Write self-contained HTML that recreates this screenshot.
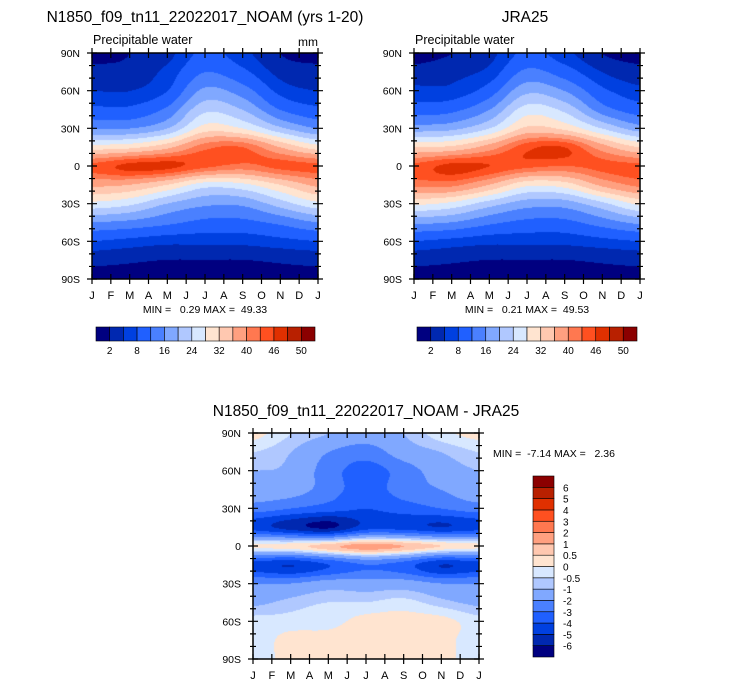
<!DOCTYPE html>
<html><head><meta charset="utf-8">
<style>
body{margin:0;background:#fff;width:733px;height:687px;overflow:hidden;position:relative;font-family:"Liberation Sans",Arial,sans-serif}
canvas{position:absolute}
svg{position:absolute;left:0;top:0}
text{white-space:pre}
</style></head>
<body>
<canvas id="c1" width="226" height="226" style="left:92px;top:53px"></canvas>
<canvas id="c2" width="226" height="226" style="left:414px;top:53px"></canvas>
<canvas id="c3" width="226" height="226" style="left:253px;top:433px"></canvas>
<svg id="ov" width="733" height="687"></svg>
<script>
// month columns J,M,M,J,S,N,J ; latitudes 90N..90S step 15
const lats=[90,75,60,45,30,15,0,-15,-30,-45,-60,-75,-90];
const monthLabels=["J","F","M","A","M","J","J","A","S","O","N","D","J"];
const latLabels=["90N","60N","30N","0","30S","60S","90S"];
const model=[
[1,2,4,9,6,2,1],
[3,3,6,12,9,4,3],
[5,5,8,17,14,7,5],
[9,9,13,23,20,12,9],
[16,16,20,30,28,21,16],
[30,31,35,42,43,36,30],
[44,47,47,44,42,44,44],
[37,36,32,26,27,32,37],
[27,25,20,17,17,22,27],
[16,15,13,11,11,13,16],
[8,7,6,6,6,7,8],
[3,2.5,2,2,2,2.5,3],
[1,1,0.5,0.5,0.5,1,1]];
const jra=[
[1,2,4,9,6,2,1],
[3,4,6,13,10,5,3],
[6,6,10,19,16,9,6],
[10,11,16,26,23,14,10],
[18,19,24,33,31,24,18],
[32,33,38,45,46,38,32],
[44,47,46,44,43,44,44],
[41,41,36,29,30,37,41],
[29,27,22,18,18,23,29],
[17,16,13,11,11,14,17],
[8,7,6,6,6,7,8],
[3,2.5,2,2,2,2.5,3],
[1,1,0.5,0.5,0.5,1,1]];
const diff=[
[0.2,-0.5,-1,-1.5,-1,-0.2,0.2],
[-0.5,-1,-2,-2.5,-1.5,-1,-0.5],
[-1,-1.2,-2.5,-3.5,-2.5,-1.5,-1],
[-1.2,-1.5,-2.5,-3.5,-2.5,-2,-1.2],
[-2.5,-3,-3.5,-4,-3.5,-3,-2.5],
[-4.5,-5.5,-6.2,-4.5,-4.5,-5,-4.5],
[0.2,0.3,0.8,1.3,1,0.5,0.2],
[-4.5,-5,-4,-3,-3.5,-5,-4.5],
[-2,-2,-1.5,-1.5,-1.5,-2,-2],
[-1.2,-0.8,-0.5,-0.5,-0.3,-0.8,-1.2],
[-0.3,-0.3,-0.2,0.2,0.2,0.2,-0.3],
[-0.3,0.2,0.2,0.3,0.3,0.2,-0.3],
[-0.3,0.2,0.2,0.3,0.3,0.2,-0.3]];
const pwLevels=[2,5,8,12,16,20,24,28,32,36,40,43,46,48,50];
const pwLabels=["2","8","16","24","32","40","46","50"];
const dLevels=[-6,-5,-4,-3,-2,-1,-0.5,0,0.5,1,2,3,4,5,6];
const dLabels=["-6","-5","-4","-3","-2","-1","-0.5","0","0.5","1","2","3","4","5","6"];
const colors=["#000080","#0028b0","#0040e0","#2060ff","#4a80ff","#80a8ff","#b0c8ff","#d8e8ff","#ffe4d0","#ffc8b0","#ffa080","#ff7850","#ff5020","#e03000","#b82000","#8b0000"];

function cr(p0,p1,p2,p3,t){return 0.5*((2*p1)+(-p0+p2)*t+(2*p0-5*p1+4*p2-p3)*t*t+(-p0+3*p1-3*p2+p3)*t*t*t);}
function sample(g,r,c){
 const R=g.length,C=g[0].length;
 const ri=Math.min(Math.floor(r),R-2),ci=Math.min(Math.floor(c),C-2);
 const tr=r-ri,tc=c-ci;
 const row=k=>{k=Math.max(0,Math.min(R-1,k));const gc=j=>g[k][Math.max(0,Math.min(C-1,j))];
  return cr(gc(ci-1),gc(ci),gc(ci+1),gc(ci+2),tc);};
 return cr(row(ri-1),row(ri),row(ri+1),row(ri+2),tr);
}
function fill(id,g,levels){
 const cv=document.getElementById(id),ctx=cv.getContext('2d');
 const W=cv.width,H=cv.height,img=ctx.createImageData(W,H);
 for(let y=0;y<H;y++)for(let x=0;x<W;x++){
  const v=sample(g,y/(H-1)*(g.length-1),x/(W-1)*(g[0].length-1));
  let k=0;while(k<levels.length&&v>=levels[k])k++;
  const col=colors[k],i=(y*W+x)*4;
  img.data[i]=parseInt(col.substr(1,2),16);img.data[i+1]=parseInt(col.substr(3,2),16);img.data[i+2]=parseInt(col.substr(5,2),16);img.data[i+3]=255;
 }
 ctx.putImageData(img,0,0);
}
fill('c1',model,pwLevels);fill('c2',jra,pwLevels);fill('c3',diff,dLevels);

const NS="http://www.w3.org/2000/svg",ov=document.getElementById('ov');
function el(t,a,txt){const e=document.createElementNS(NS,t);for(const k in a)e.setAttribute(k,a[k]);if(txt!=null)e.textContent=txt;ov.appendChild(e);return e;}
function txt(x,y,s,size,anchor,name){const e=el('text',{x:x,y:y,'font-size':size,'text-anchor':anchor||'start',fill:'#000'},s);
 
 return e;}
function axes(x0,y0,w,h,prefix){
 const xs=m=>x0+m*w/12, ys=lat=>y0+(90-lat)*h/180;
 const b=el('rect',{x:x0,y:y0,width:w,height:h,fill:'none',stroke:'#000','stroke-width':1.5});
 
 
 let d='';
 for(let m=0;m<=12;m++){const x=xs(m);d+=`M${x} ${y0+h+5}V${y0+h-5}M${x} ${y0-5}V${y0+5}`;
  txt(x,y0+h+20,monthLabels[m],11,'middle',prefix+'-month-label');}
 for(let lat=-90;lat<=90;lat+=10){const y=ys(lat);const mj=lat%30===0;const L=mj?5:3;
  d+=`M${x0-L} ${y}H${x0+L}M${x0+w-L} ${y}H${x0+w+L}`;}
 latLabels.forEach((s,i)=>txt(x0-12,ys(90-i*30)+4,s,10.5,'end',prefix+'-lat-label'));
 const p=el('path',{d:d,stroke:'#000','stroke-width':1.2,fill:'none'});
 
 
}
axes(92,53,226,226,'model');axes(414,53,226,226,'jra');axes(253,433,226,226,'diff');

txt(205,22,"N1850_f09_tn11_22022017_NOAM (yrs 1-20)",15.5,'middle','model-title');
txt(525,22,"JRA25",15.5,'middle','jra-title');
txt(93,44,"Precipitable water",12.5,'start','model-subtitle');
txt(318,46,"mm",12,'end','units-label');
txt(415,44,"Precipitable water",12.5,'start','jra-subtitle');
txt(205,313,"MIN =   0.29 MAX =  49.33",10.5,'middle','model-minmax');
txt(527,313,"MIN =   0.21 MAX =  49.53",10.5,'middle','jra-minmax');
txt(366,416,"N1850_f09_tn11_22022017_NOAM - JRA25",15.5,'middle','diff-title');
txt(493,457,"MIN =  -7.14 MAX =   2.36",10.5,'start','diff-minmax');

function hbar(x0,y0,w,h,prefix){
 const bw=w/16;
 colors.forEach((c,i)=>{const r=el('rect',{x:x0+i*bw,y:y0,width:bw,height:h,fill:c,stroke:'#000','stroke-width':0.6});
  
  });
 pwLabels.forEach((s,i)=>txt(x0+(2*i+1)*bw,y0+h+13,s,10,'middle',prefix+'-colorbar-label'));
}
hbar(96,327,219,14,'model');hbar(417,327,220,14,'jra');
(function(){const x0=533,y0=476,w=21,h=181,bh=h/16;
 colors.forEach((c,i)=>{const r=el('rect',{x:x0,y:y0+h-(i+1)*bh,width:w,height:bh,fill:c,stroke:'#000','stroke-width':0.6});
  
  });
 dLabels.forEach((s,i)=>txt(x0+w+9,y0+h-(i+1)*bh+4,s,10,'start','diff-colorbar-label'));
})();
</script>
</body></html>
